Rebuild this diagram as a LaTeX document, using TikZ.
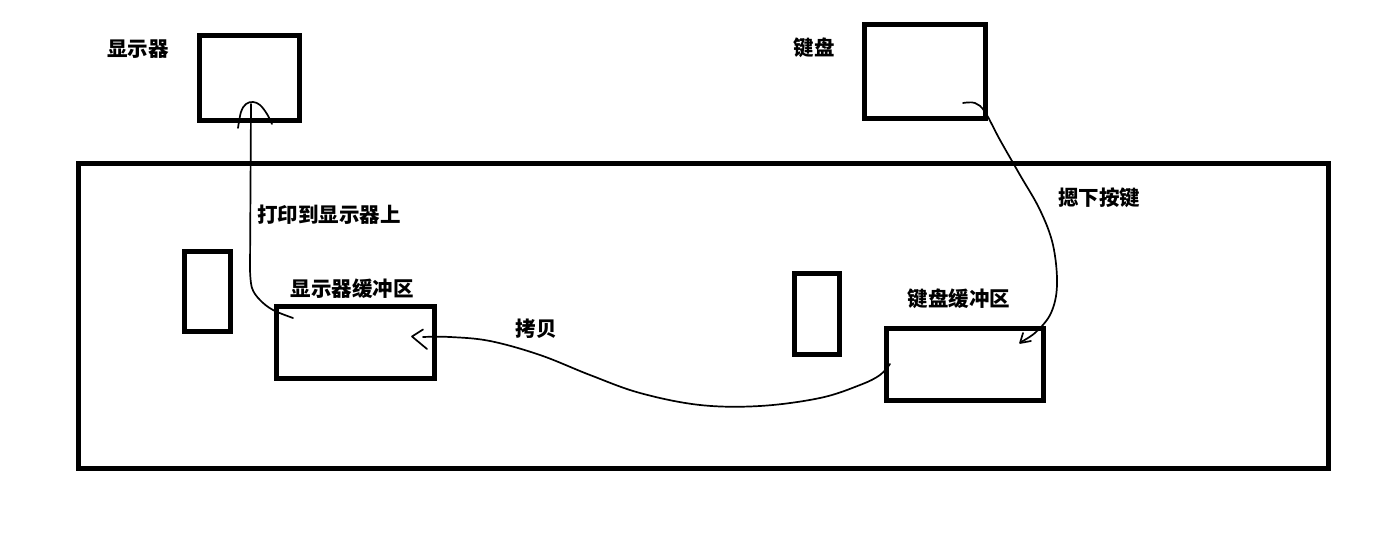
\documentclass[tikz,border=0pt]{standalone}
\usepackage{fontspec}
\newfontfamily\cjk{Noto Sans CJK SC}
\begin{document}
\begin{tikzpicture}[x=1pt,y=-1pt,
  box/.style={draw,line width=5pt,inner sep=0pt,outer sep=0pt},
  lbl/.style={font=\cjk\bfseries\fontsize{20.5}{22}\selectfont,inner sep=0pt},
  wire/.style={line width=1.7pt,line cap=round,line join=round}]
\useasboundingbox (0,0) rectangle (1386,534);
% boxes
\node[box,minimum width=100pt,minimum height=85pt] (mon) at (249.5,78) {};
\node[box,minimum width=121pt,minimum height=94pt] (kbd) at (925,71.5) {};
\node[box,minimum width=1250pt,minimum height=305pt] (sys) at (703.5,316) {};
\node[box,minimum width=46pt,minimum height=80pt] (sl) at (207.5,291.5) {};
\node[box,minimum width=158pt,minimum height=72pt] (dbuf) at (355.5,342.5) {};
\node[box,minimum width=45pt,minimum height=81pt] (sm) at (817,314) {};
\node[box,minimum width=157pt,minimum height=72pt] (kbuf) at (965,364.5) {};
% labels
\node[lbl] (lmon) at (138,49) {显示器};
\node[lbl] (lkbd) at (814,48) {键盘};
\node[lbl] (lprint) at (329,215) {打印到显示器上};
\node[lbl] (ldbuf) at (352,289) {显示器缓冲区};
\node[lbl] (lcopy) at (536,329) {拷贝};
\node[lbl] (lkbuf) at (959,299) {键盘缓冲区};
\node[lbl] (lpress) at (1099,198) {摁下按键};
% connector endpoints
\coordinate (k1) at (963,103);
\coordinate (k2) at (1021,342);
\coordinate (c1) at (890,364);
\coordinate (c2) at (412,336.5);
\coordinate (d1) at (293,318);
\coordinate (d2) at (251,104);
% keyboard -> keyboard buffer
\draw[wire] plot[smooth,tension=0.6] coordinates {(k1) (975,103) (985,112) (1000,140) (1020,175) (1040,210) (1053,245) (1057,285) (1051,313) (1036,332) (k2)};
\draw[wire] (1023,333) -- (1020,343) -- (1031,341);
% keyboard buffer -> display buffer
\draw[wire] plot[smooth,tension=0.6] coordinates {(c1) (880,375) (860,385) (820,398) (760,406) (700,405) (640,393) (590,375) (540,355) (490,341) (450,337) (423,337)};
\draw[wire] (423,329.5) -- (c2) -- (427,349);
% display buffer -> monitor
\draw[wire] plot[smooth,tension=0.6] coordinates {(d1) (273,310) (260,300) (252,288) (250,270)} -- (d2);
\draw[wire] plot[smooth,tension=0.6] coordinates {(238,128) (241,112) (246,104) (253,102) (260,105) (267,114) (272,124)};
\end{tikzpicture}
\end{document}
